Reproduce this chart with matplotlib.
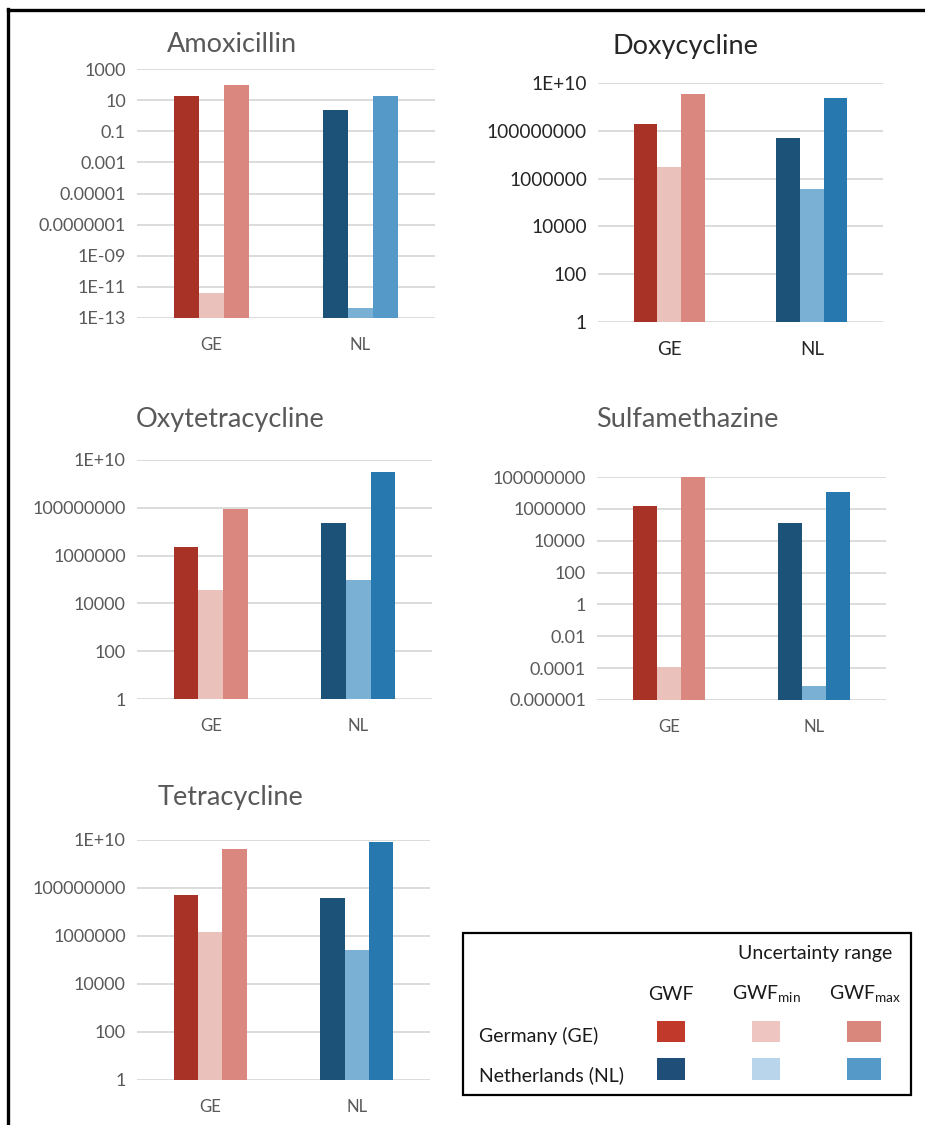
import numpy as np
import matplotlib
matplotlib.use("Agg")
import matplotlib.pyplot as plt
from matplotlib.patches import Rectangle
from matplotlib.lines import Line2D

plt.rcParams['font.family'] = ['Lato', 'DejaVu Sans']
plt.rcParams['mathtext.fontset'] = 'custom'
plt.rcParams['mathtext.rm'] = 'Lato'

countries = ['GE', 'NL']
series = ['GWF', 'GWF_min', 'GWF_max']

# values per antibiotic: [GE, NL] for GWF, GWF_min, GWF_max
amox_gwf = [18, 2.2]
amox_min = [4e-12, 4.5e-13]
amox_max = [93, 18]

doxy_gwf = [1.9e8, 5.1e7]
doxy_min = [3.2e6, 3.8e5]
doxy_max = [3.5e9, 2.4e9]

oxy_gwf = [2.4e6, 2.4e7]
oxy_min = [3.8e4, 1.0e5]
oxy_max = [0.9e8, 3.2e9]

sulfa_gwf = [1.5e6, 1.3e5]
sulfa_min = [1.15e-4, 7.6e-6]
sulfa_max = [1.05e8, 1.2e7]

tetra_gwf = [5.3e7, 4.0e7]
tetra_min = [1.5e6, 2.6e5]
tetra_max = [4.4e9, 8.0e9]

amox_ticks = [1e-13, 1e-11, 1e-9, 1e-7, 1e-5, 1e-3, 1e-1, 10, 1000]
amox_labels = ['1E-13', '1E-11', '1E-09', '0.0000001', '0.00001', '0.001', '0.1', '10', '1000']
big_ticks = [1, 100, 1e4, 1e6, 1e8, 1e10]
big_labels = ['1', '100', '10000', '1000000', '100000000', '1E+10']
sulfa_ticks = [1e-6, 1e-4, 1e-2, 1, 100, 1e4, 1e6, 1e8]
sulfa_labels = ['0.000001', '0.0001', '0.01', '1', '100', '10000', '1000000', '100000000']

ge_cols = ['#A93226', '#EBC1BC', '#D9877F']
nl_cols = ['#1C5277', '#7BB0D5', '#2878B0']
nl_cols_amox = ['#1C5277', '#7BB0D5', '#5499C7']

W, H = 925, 1125
fig = plt.figure(figsize=(W / 100, H / 100), dpi=100)


def fx(px):
    return px / W


def fy(py):
    return 1 - py / H


def box(x0, y0, x1, y1):
    return [x0 / W, 1 - y1 / H, (x1 - x0) / W, (y1 - y0) / H]


def panel(rect, title, tpos, gwf, vmin, vmax, ticks, labels, nlc,
          dark=False, tfs=13, xfs=12):
    ax = fig.add_axes(box(*rect))
    ax.set_yscale('log')
    lo, hi = ticks[0], ticks[-1]
    x = np.arange(len(countries))
    w = 0.5 / 3
    for i, vals in enumerate([gwf, vmin, vmax]):
        cols = [ge_cols[i], nlc[i]]
        ax.bar(x + (i - 1) * w, np.array(vals) - lo, w, bottom=lo, color=cols,
               edgecolor='none', zorder=3)
    ax.set_ylim(lo, hi)
    ax.set_xlim(-0.5, 1.5)
    ax.set_yticks(ticks)
    ax.set_yticklabels(labels)
    ax.minorticks_off()
    ax.set_xticks(x)
    ax.set_xticklabels(countries)
    col = '#262626' if dark else '#595959'
    ax.tick_params(length=0, colors=col, pad=8)
    ax.tick_params(axis='y', labelsize=tfs)
    ax.tick_params(axis='x', labelsize=xfs, pad=14)
    ax.grid(axis='y', color='#DCDCDC', lw=1.4, zorder=0)
    for s in ax.spines.values():
        s.set_visible(False)
    fig.text(fx(tpos[0]), fy(tpos[1]), title, ha='center', va='baseline',
             fontsize=19.5, color=col)
    return ax


panel((137, 69, 435, 318), 'Amoxicillin', (232, 52), amox_gwf, amox_min, amox_max,
      amox_ticks, amox_labels, nl_cols_amox)
panel((598, 83, 883, 322), 'Doxycycline', (685, 54), doxy_gwf, doxy_min, doxy_max,
      big_ticks, big_labels, nl_cols, dark=True, tfs=13.8, xfs=13.5)
panel((137, 460, 432, 699), 'Oxytetracycline', (230, 427), oxy_gwf, oxy_min, oxy_max,
      big_ticks, big_labels, nl_cols)
panel((597, 477, 886, 700), 'Sulfamethazine', (687, 427), sulfa_gwf, sulfa_min, sulfa_max,
      sulfa_ticks, sulfa_labels, nl_cols)
panel((137, 840, 430, 1080), 'Tetracycline', (230, 805), tetra_gwf, tetra_min, tetra_max,
      big_ticks, big_labels, nl_cols)

# outer frame (open at right and bottom)
fig.add_artist(Line2D([fx(8), fx(930)], [fy(10), fy(10)], color='black', lw=2.4))
fig.add_artist(Line2D([fx(8), fx(8)], [fy(9), fy(1130)], color='black', lw=2.4))

# legend box
fig.add_artist(Rectangle((fx(463), fy(1095)), fx(911) - fx(463), fy(933) - fy(1095),
                         fill=False, edgecolor='black', lw=1.6))
tc = '#1A1A1A'
fig.text(fx(815), fy(953), 'Uncertainty range', ha='center', va='center', fontsize=14, color=tc)
fig.text(fx(671), fy(994), 'GWF', ha='center', va='center', fontsize=14, color=tc)
fig.text(fx(766), fy(994), r'GWF$_{\rm min}$', ha='center', va='center', fontsize=14, color=tc)
fig.text(fx(865), fy(994), r'GWF$_{\rm max}$', ha='center', va='center', fontsize=14, color=tc)
fig.text(fx(479), fy(1036), 'Germany (GE)', ha='left', va='center', fontsize=14, color=tc)
fig.text(fx(479), fy(1075), 'Netherlands (NL)', ha='left', va='center', fontsize=14, color=tc)

leg_ge = ['#C0392B', '#EFC5C1', '#D9867D']
leg_nl = ['#1F4E79', '#B8D5EB', '#5499C7']
sq_x = [(657, 685), (752, 780), (847, 881)]
for (a, b), cg, cn in zip(sq_x, leg_ge, leg_nl):
    fig.add_artist(Rectangle((fx(a), fy(1042)), fx(b) - fx(a), fy(1021) - fy(1042),
                             facecolor=cg, edgecolor='none'))
    fig.add_artist(Rectangle((fx(a), fy(1080)), fx(b) - fx(a), fy(1058) - fy(1080),
                             facecolor=cn, edgecolor='none'))

fig.savefig('out.png', dpi=100)
